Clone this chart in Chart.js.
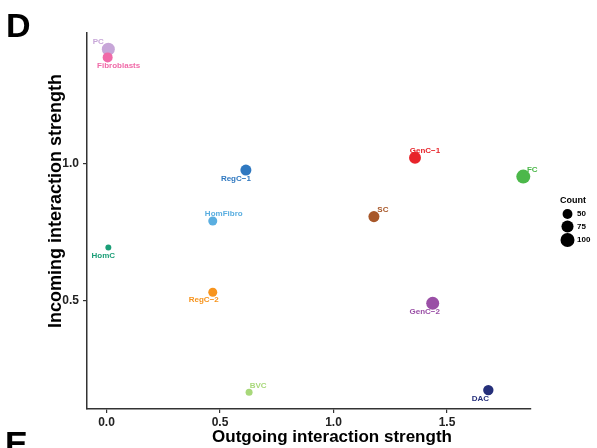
<!DOCTYPE html>
<html>
<head>
<meta charset="utf-8">
<script src="https://cdn.jsdelivr.net/npm/chart.js@4.4.0/dist/chart.umd.min.js"></script>
<style>
body { margin: 0; background: #fff; }
#wrap { width: 597px; height: 448px; position: relative; }
</style>
</head>
<body>
<div id="wrap"><canvas id="myChart" width="597" height="448"></canvas></div>
<script>
// cell groups and their strengths
var cellTypes = ['PC', 'Fibroblasts', 'RegC-1', 'HomFibro', 'HomC', 'RegC-2', 'GenC-1', 'FC', 'SC', 'GenC-2', 'BVC', 'DAC'];
var outgoing = [0.008, 0.005, 0.614, 0.468, 0.008, 0.468, 1.359, 1.836, 1.178, 1.437, 0.628, 1.682];
var incoming = [1.419, 1.389, 0.978, 0.792, 0.695, 0.532, 1.023, 0.954, 0.808, 0.492, 0.167, 0.175];
var counts = [86, 51, 62, 41, 18, 41, 73, 100, 62, 86, 25, 55];
var xTicks = [0, 0.5, 1.0, 1.5];
var yTicks = [0.5, 1.0];
var legendCounts = [50, 75, 100];

// styles
var colors = ['#c7a6d8', '#f06aa8', '#2f78c0', '#5aaee0', '#1b9e77', '#f7941d', '#e8242a', '#4cb84a', '#a8582a', '#9a4fa6', '#a8d87a', '#252f7a'];
// label offset from point (px)
var labelOffsets = [[-10, -7], [11, 8], [-10, 9], [11, -7], [-5, 8], [-9, 8], [10, -7], [9, -7], [9, -7], [-8, 9], [9, -6], [-8, 9]];

function radius(c) {
    return 0.7 * Math.sqrt(c);
}

var points = [];
for (var i = 0; i < cellTypes.length; i++) {
    points.push({ x: outgoing[i], y: incoming[i], r: radius(counts[i]) });
}

var FONT = 'Arial, "Liberation Sans", sans-serif';

var extras = {
    id: 'extras',
    afterDatasetsDraw: function(chart) {
        var ctx = chart.ctx;
        var meta = chart.getDatasetMeta(0);
        ctx.save();
        // point labels (ggplot draws the hyphen as a minus sign)
        ctx.font = 'bold 8px ' + FONT;
        ctx.textAlign = 'center';
        ctx.textBaseline = 'middle';
        meta.data.forEach(function(el, i) {
            ctx.fillStyle = colors[i];
            ctx.fillText(cellTypes[i].replace('-', '\u2212'), el.x + labelOffsets[i][0], el.y + labelOffsets[i][1]);
        });

        // size legend
        ctx.fillStyle = '#000';
        ctx.font = 'bold 9px ' + FONT;
        ctx.textAlign = 'left';
        ctx.fillText('Count', 560, 201);
        var ly = [214, 226.5, 240];
        legendCounts.forEach(function(c, k) {
            ctx.beginPath();
            ctx.arc(567.5, ly[k], radius(c), 0, Math.PI * 2);
            ctx.fill();
            ctx.font = 'bold 8px ' + FONT;
            ctx.fillText(String(c), 577, ly[k]);
        });

        // axis titles
        ctx.textAlign = 'center';
        ctx.textBaseline = 'alphabetic';
        ctx.font = 'bold 17px ' + FONT;
        ctx.fillText('Outgoing interaction strength', 332, 442);
        ctx.save();
        ctx.translate(61, 201);
        ctx.rotate(-Math.PI / 2);
        ctx.font = 'bold 18px ' + FONT;
        ctx.fillText('Incoming interaction strength', 0, 0);
        ctx.restore();

        // panel letters
        ctx.font = 'bold 34px ' + FONT;
        ctx.textAlign = 'left';
        ctx.fillText('D', 6, 37);
        ctx.fillText('E', 5, 455);
        ctx.restore();
    }
};

var grapharea = document.getElementById('myChart');
const config = {
    type: 'bubble',
    data: {
        datasets: [{
            label: 'Count',
            data: points,
            backgroundColor: colors,
            borderWidth: 0,
            hoverRadius: 0
        }]
    },
    options: {
        responsive: false,
        animation: false,
        events: [],
        layout: { padding: { top: 33, right: 66, left: 0, bottom: 0 } },
        plugins: { legend: { display: false }, tooltip: { enabled: false } },
        scales: {
            x: {
                type: 'linear',
                min: -0.086,
                max: 1.87,
                afterFit: function(s) { s.height = 39; },
                afterBuildTicks: function(s) { s.ticks = xTicks.map(function(v) { return { value: v }; }); },
                grid: { drawOnChartArea: false, drawTicks: true, tickLength: 4, color: '#333', lineWidth: 1.2 },
                border: { display: true, color: '#333', width: 1.5 },
                ticks: {
                    color: '#222',
                    padding: 2,
                    font: { family: FONT, size: 12, weight: 'bold' },
                    callback: function(v) { return Number(v).toFixed(1); }
                }
            },
            y: {
                type: 'linear',
                min: 0.106,
                max: 1.478,
                afterFit: function(s) { s.width = 87; },
                afterBuildTicks: function(s) { s.ticks = yTicks.map(function(v) { return { value: v }; }); },
                grid: { drawOnChartArea: false, drawTicks: true, tickLength: 4, color: '#333', lineWidth: 1.2 },
                border: { display: true, color: '#333', width: 1.5 },
                ticks: {
                    color: '#222',
                    padding: 4,
                    font: { family: FONT, size: 12, weight: 'bold' },
                    callback: function(v) { return Number(v).toFixed(1); }
                }
            }
        }
    },
    plugins: [extras]
};
const myChart = new Chart(grapharea, config);
</script>
</body>
</html>
